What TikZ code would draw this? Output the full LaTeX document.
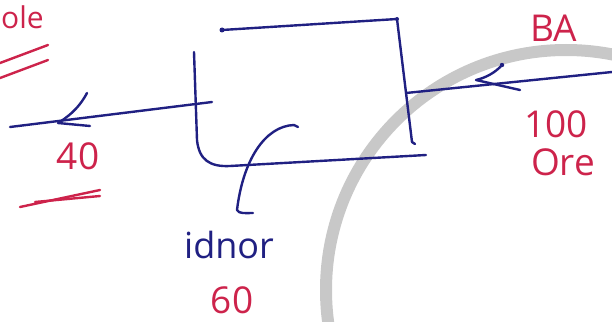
\documentclass[tikz,border=0pt]{standalone}
\usepackage{fontspec}
\setmainfont{Open Sans}
\begin{document}
\begin{tikzpicture}[x=1pt,y=-1pt,
  ink/.style={draw=inkblue,line width=2.4pt,line cap=round,line join=round},
  redink/.style={draw=inkred,line width=2.4pt,line cap=round},
  lbl/.style={text=inkred,font=\fontsize{37}{37}\selectfont,inner sep=0pt},
  blbl/.style={text=inkblue,font=\fontsize{36}{36}\selectfont,inner sep=0pt}]
\definecolor{inkblue}{RGB}{32,32,130}
\definecolor{inkred}{RGB}{205,35,75}
\definecolor{arcgray}{RGB}{200,200,200}
\useasboundingbox (0,0) rectangle (612,321);
\begin{scope}
\clip (0,0) rectangle (612,321);
\draw[arcgray,line width=12pt] (566,290) circle (240);
\end{scope}
% box
\coordinate (tl) at (222,30);
\coordinate (tr) at (397,19);
\coordinate (rb) at (412,142);
\coordinate (lt) at (194,52);
\coordinate (lc) at (230,166);
\coordinate (br) at (426,155);
\draw[ink] (tl) -- (tr) -- (rb) -- ++(3,2);
\fill[inkblue] (tl) circle (2.5);
\fill[inkblue] (tr) circle (2);
\draw[ink] (lt) -- (197,140) .. controls (199,160) and (210,167) .. (lc) -- (br);
% left arrow
\coordinate (la0) at (212,102);
\coordinate (la1) at (10,127);
\coordinate (lat) at (58,123);
\draw[ink] (la0) -- (la1);
\draw[ink] (87,93) .. controls (78,110) and (66,118) .. (lat) -- (90,126);
% right arrow
\coordinate (ra0) at (612,72);
\coordinate (ra1) at (406,93);
\coordinate (rat) at (476,80);
\draw[ink] (ra0) -- (ra1);
\draw[ink] (502,65) .. controls (495,73) and (485,78) .. (rat) -- (520,90);
\fill[inkblue] (502,65) circle (2.2);
% inner curved arrow
\coordinate (ca0) at (298,127);
\coordinate (ca1) at (237,210);
\draw[ink] (ca0) -- (294,125) .. controls (265,126) and (243,160) .. (ca1) .. controls (239,214) and (245,213) .. (253,213);
% red strokes
\draw[redink] (0,63) -- (48,45);
\draw[redink] (0,78) -- (48,60);
\draw[redink] (20,207) -- (100,190);
\draw[redink] (35,202) -- (100,196);
% labels
\node[lbl,anchor=west,font=\fontsize{30}{30}\selectfont] (ole) at (1,17) {ole};
\node[lbl] (n40) at (78,156) {40};
\node[lbl] (ba) at (554,28) {BA};
\node[lbl] (n100) at (556,124) {100};
\node[lbl] (ore) at (563,162) {Ore};
\node[blbl] (idnor) at (229,245) {idnor};
\node[lbl] (n60) at (232,300) {60};
\end{tikzpicture}
\end{document}
